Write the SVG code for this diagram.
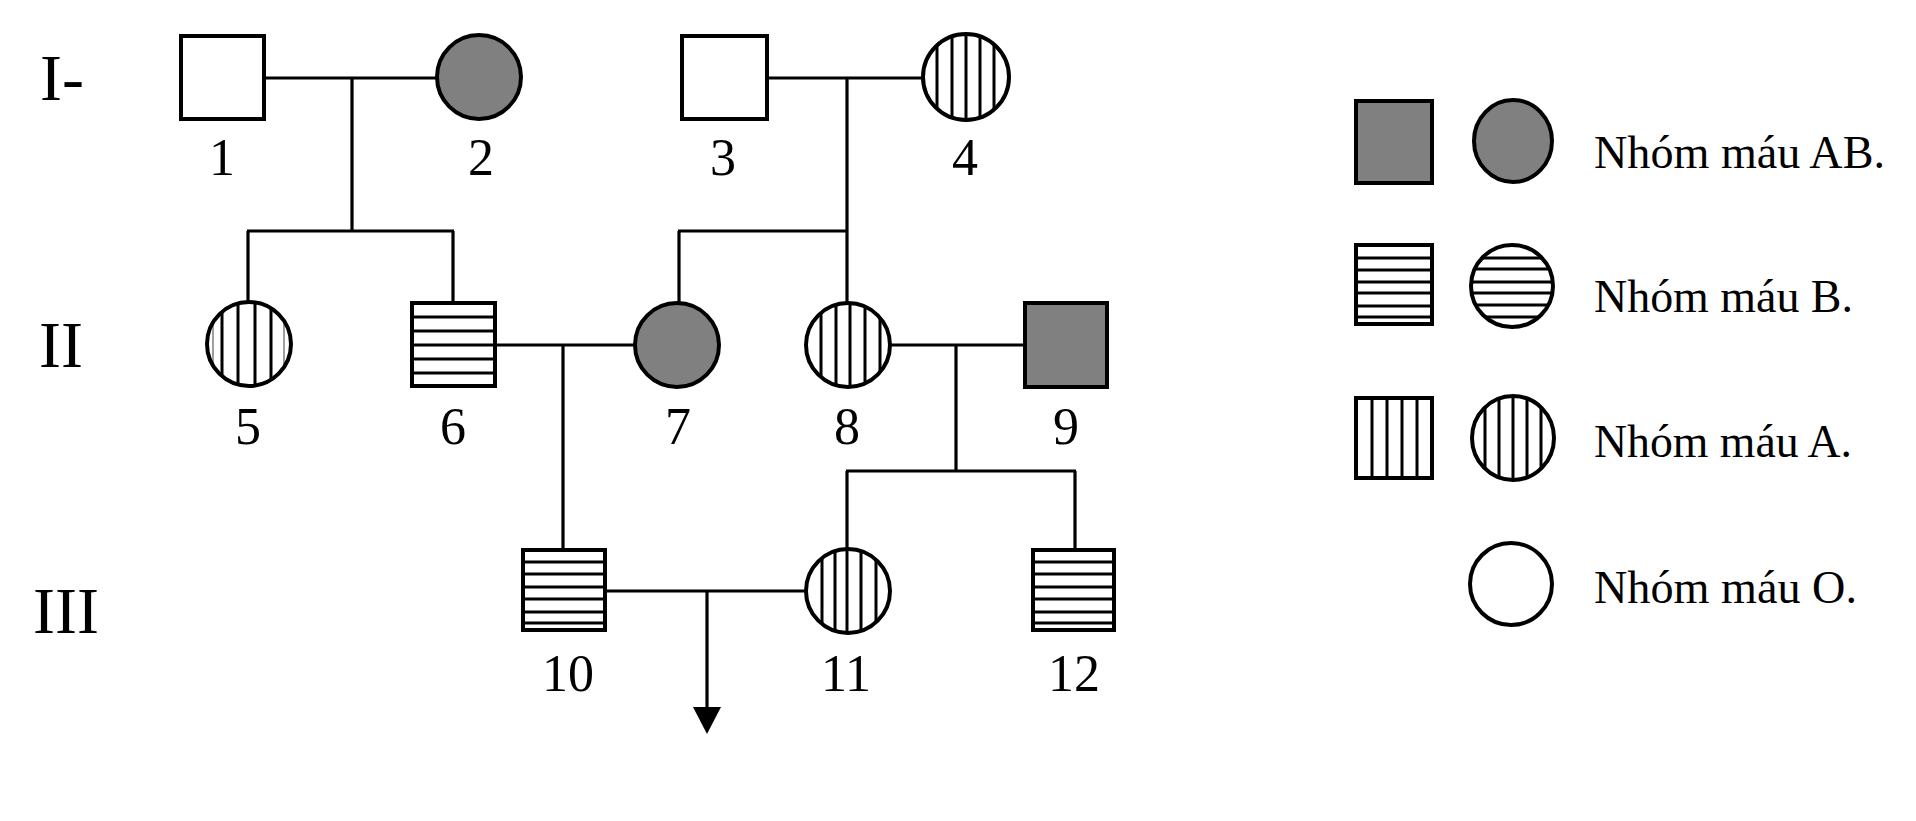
<svg xmlns="http://www.w3.org/2000/svg" width="1916" height="821" viewBox="0 0 1916 821">
<style>
.sh{fill:none;stroke:#000;stroke-width:4}
.wh{fill:#fff;stroke:#000;stroke-width:4}
.gr{fill:#808080;stroke:#000;stroke-width:4}
.st{stroke:#000;stroke-width:3}
.ft{stroke:#000;stroke-width:1.5;opacity:0.5}
.ln{stroke:#000;stroke-width:3.2;fill:none}
.num{font-family:"Liberation Serif","Times New Roman",serif;font-size:52px;text-anchor:middle;fill:#000}
.gen{font-family:"Liberation Serif","Times New Roman",serif;font-size:66px;fill:#000}
.leg{font-family:"Liberation Serif","Times New Roman",serif;font-size:47px;fill:#000}
</style>
<defs>
<clipPath id="c4"><circle cx="966" cy="77" r="43"/></clipPath>
<clipPath id="c5"><circle cx="249" cy="344" r="42"/></clipPath>
<clipPath id="c8"><circle cx="848" cy="345" r="42"/></clipPath>
<clipPath id="c11"><circle cx="848" cy="591" r="42"/></clipPath>
<clipPath id="cB"><ellipse cx="1512" cy="286" rx="41" ry="41"/></clipPath>
<clipPath id="cA"><ellipse cx="1513" cy="438" rx="41" ry="42"/></clipPath>
</defs>
<rect width="1916" height="821" fill="#fff"/>

<g id="generations">
<text class="gen" x="40" y="100">I-</text>
<text class="gen" x="39" y="367">II</text>
<text class="gen" x="33" y="633">III</text>
</g>

<g id="connectors">
<line class="ln" x1="264" y1="78" x2="437" y2="78"/>
<line class="ln" x1="352" y1="78" x2="352" y2="231"/>
<line class="ln" x1="247" y1="231" x2="454" y2="231"/>
<line class="ln" x1="248" y1="231" x2="248" y2="302"/>
<line class="ln" x1="453" y1="231" x2="453" y2="303"/>
<line class="ln" x1="767" y1="78" x2="923" y2="78"/>
<line class="ln" x1="847" y1="78" x2="847" y2="303"/>
<line class="ln" x1="678" y1="231" x2="848" y2="231"/>
<line class="ln" x1="679" y1="231" x2="679" y2="303"/>
<line class="ln" x1="495" y1="345" x2="635" y2="345"/>
<line class="ln" x1="563" y1="345" x2="563" y2="550"/>
<line class="ln" x1="889" y1="345" x2="1025" y2="345"/>
<line class="ln" x1="956" y1="345" x2="956" y2="471"/>
<line class="ln" x1="846" y1="471" x2="1076" y2="471"/>
<line class="ln" x1="847" y1="471" x2="847" y2="549"/>
<line class="ln" x1="1075" y1="471" x2="1075" y2="550"/>
<line class="ln" x1="605" y1="591" x2="807" y2="591"/>
<line class="ln" x1="707" y1="591" x2="707" y2="710"/>
<polygon points="693,707 721,707 707,734" fill="#000"/>
</g>

<g id="node1">
<rect class="wh" x="181" y="36" width="83" height="83"/>
<text class="num" x="222" y="175">1</text>
</g>
<g id="node2">
<circle class="gr" cx="479" cy="77" r="42"/>
<text class="num" x="481" y="175">2</text>
</g>
<g id="node3">
<rect class="wh" x="682" y="36" width="85" height="83"/>
<text class="num" x="723" y="175">3</text>
</g>
<g id="node4">
<circle cx="966" cy="77" r="43" fill="#fff"/>
<g clip-path="url(#c4)">
<line class="st" x1="937" y1="30" x2="937" y2="125"/>
<line class="st" x1="952" y1="30" x2="952" y2="125"/>
<line class="st" x1="966" y1="30" x2="966" y2="125"/>
<line class="st" x1="980" y1="30" x2="980" y2="125"/>
<line class="st" x1="994" y1="30" x2="994" y2="125"/>
</g>
<circle class="sh" cx="966" cy="77" r="43"/>
<text class="num" x="965" y="175">4</text>
</g>
<g id="node5">
<circle cx="249" cy="344" r="42" fill="#fff"/>
<g clip-path="url(#c5)">
<line class="ft" x1="213" y1="300" x2="213" y2="390"/>
<line class="st" x1="222" y1="300" x2="222" y2="390"/>
<line class="st" x1="238" y1="300" x2="238" y2="390"/>
<line class="st" x1="255" y1="300" x2="255" y2="390"/>
<line class="st" x1="271" y1="300" x2="271" y2="390"/>
<line class="ft" x1="284" y1="300" x2="284" y2="390"/>
</g>
<circle class="sh" cx="249" cy="344" r="42"/>
<text class="num" x="248" y="444">5</text>
</g>
<g id="node6">
<rect x="412" y="303" width="83" height="83" fill="#fff"/>
<line class="st" x1="412" y1="317" x2="495" y2="317"/>
<line class="st" x1="412" y1="331" x2="495" y2="331"/>
<line class="st" x1="412" y1="345" x2="495" y2="345"/>
<line class="st" x1="412" y1="359" x2="495" y2="359"/>
<line class="st" x1="412" y1="373" x2="495" y2="373"/>
<rect class="sh" x="412" y="303" width="83" height="83"/>
<text class="num" x="453" y="444">6</text>
</g>
<g id="node7">
<circle class="gr" cx="677" cy="345" r="42"/>
<text class="num" x="678" y="444">7</text>
</g>
<g id="node8">
<circle cx="848" cy="345" r="42" fill="#fff"/>
<g clip-path="url(#c8)">
<line class="st" x1="821" y1="300" x2="821" y2="390"/>
<line class="st" x1="836" y1="300" x2="836" y2="390"/>
<line class="st" x1="850" y1="300" x2="850" y2="390"/>
<line class="st" x1="865" y1="300" x2="865" y2="390"/>
<line class="st" x1="880" y1="300" x2="880" y2="390"/>
</g>
<circle class="sh" cx="848" cy="345" r="42"/>
<text class="num" x="847" y="444">8</text>
</g>
<g id="node9">
<rect class="gr" x="1025" y="303" width="82" height="84"/>
<text class="num" x="1066" y="444">9</text>
</g>
<g id="node10">
<rect x="523" y="550" width="82" height="80" fill="#fff"/>
<line class="st" x1="523" y1="562" x2="605" y2="562"/>
<line class="st" x1="523" y1="574" x2="605" y2="574"/>
<line class="st" x1="523" y1="587" x2="605" y2="587"/>
<line class="st" x1="523" y1="599" x2="605" y2="599"/>
<line class="st" x1="523" y1="612" x2="605" y2="612"/>
<line class="st" x1="523" y1="623" x2="605" y2="623"/>
<rect class="sh" x="523" y="550" width="82" height="80"/>
<text class="num" x="568" y="691">10</text>
</g>
<g id="node11">
<circle cx="848" cy="591" r="42" fill="#fff"/>
<g clip-path="url(#c11)">
<line class="st" x1="822" y1="545" x2="822" y2="637"/>
<line class="st" x1="835" y1="545" x2="835" y2="637"/>
<line class="st" x1="847" y1="545" x2="847" y2="637"/>
<line class="st" x1="861" y1="545" x2="861" y2="637"/>
<line class="st" x1="876" y1="545" x2="876" y2="637"/>
</g>
<circle class="sh" cx="848" cy="591" r="42"/>
<text class="num" x="846" y="691">11</text>
</g>
<g id="node12">
<rect x="1033" y="550" width="81" height="80" fill="#fff"/>
<line class="st" x1="1033" y1="562" x2="1114" y2="562"/>
<line class="st" x1="1033" y1="574" x2="1114" y2="574"/>
<line class="st" x1="1033" y1="587" x2="1114" y2="587"/>
<line class="st" x1="1033" y1="599" x2="1114" y2="599"/>
<line class="st" x1="1033" y1="612" x2="1114" y2="612"/>
<line class="st" x1="1033" y1="623" x2="1114" y2="623"/>
<rect class="sh" x="1033" y="550" width="81" height="80"/>
<text class="num" x="1074" y="691">12</text>
</g>

<g id="legend">
<g id="legendAB">
<rect class="gr" x="1356" y="101" width="76" height="82"/>
<ellipse class="gr" cx="1513" cy="141" rx="39" ry="41"/>
<text class="leg" x="1594" y="168" textLength="291" lengthAdjust="spacingAndGlyphs">Nhóm máu AB.</text>
</g>
<g id="legendB">
<rect x="1356" y="245" width="76" height="79" fill="#fff"/>
<line class="st" x1="1356" y1="258" x2="1432" y2="258"/>
<line class="st" x1="1356" y1="270" x2="1432" y2="270"/>
<line class="st" x1="1356" y1="282" x2="1432" y2="282"/>
<line class="st" x1="1356" y1="293" x2="1432" y2="293"/>
<line class="st" x1="1356" y1="306" x2="1432" y2="306"/>
<line class="st" x1="1356" y1="317" x2="1432" y2="317"/>
<rect class="sh" x="1356" y="245" width="76" height="79"/>
<ellipse cx="1512" cy="286" rx="41" ry="41" fill="#fff"/>
<g clip-path="url(#cB)">
<line class="st" x1="1468" y1="258" x2="1556" y2="258"/>
<line class="st" x1="1468" y1="269" x2="1556" y2="269"/>
<line class="st" x1="1468" y1="282" x2="1556" y2="282"/>
<line class="st" x1="1468" y1="293" x2="1556" y2="293"/>
<line class="st" x1="1468" y1="305" x2="1556" y2="305"/>
<line class="st" x1="1468" y1="317" x2="1556" y2="317"/>
</g>
<ellipse class="sh" cx="1512" cy="286" rx="41" ry="41"/>
<text class="leg" x="1594" y="312" textLength="259" lengthAdjust="spacingAndGlyphs">Nhóm máu B.</text>
</g>
<g id="legendA">
<rect x="1356" y="398" width="76" height="80" fill="#fff"/>
<line class="st" x1="1372" y1="398" x2="1372" y2="478"/>
<line class="st" x1="1387" y1="398" x2="1387" y2="478"/>
<line class="st" x1="1402" y1="398" x2="1402" y2="478"/>
<line class="st" x1="1417" y1="398" x2="1417" y2="478"/>
<rect class="sh" x="1356" y="398" width="76" height="80"/>
<ellipse cx="1513" cy="438" rx="41" ry="42" fill="#fff"/>
<g clip-path="url(#cA)">
<line class="st" x1="1485" y1="392" x2="1485" y2="484"/>
<line class="st" x1="1499" y1="392" x2="1499" y2="484"/>
<line class="st" x1="1513" y1="392" x2="1513" y2="484"/>
<line class="st" x1="1527" y1="392" x2="1527" y2="484"/>
<line class="st" x1="1541" y1="392" x2="1541" y2="484"/>
</g>
<ellipse class="sh" cx="1513" cy="438" rx="41" ry="42"/>
<text class="leg" x="1594" y="457" textLength="258" lengthAdjust="spacingAndGlyphs">Nhóm máu A.</text>
</g>
<g id="legendO">
<ellipse class="wh" cx="1511" cy="584" rx="41" ry="41"/>
<text class="leg" x="1594" y="603" textLength="263" lengthAdjust="spacingAndGlyphs">Nhóm máu O.</text>
</g>
</g>
</svg>
